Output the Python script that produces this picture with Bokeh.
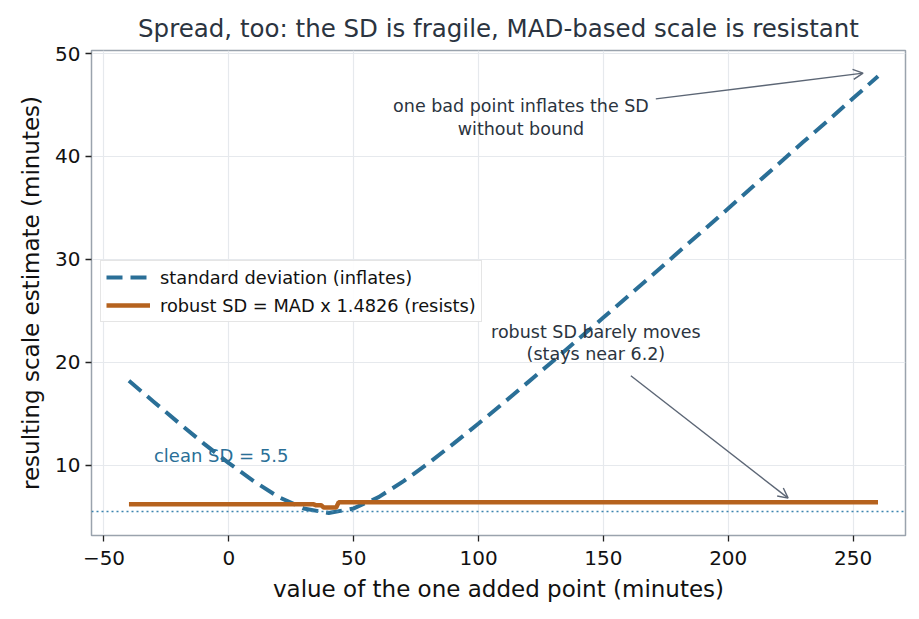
from bokeh.plotting import figure
from bokeh.models import (Range1d, FixedTicker, Legend, LegendItem, Span, Label,
                          Arrow, OpenHead, ColumnDataSource)
from bokeh.embed import file_html
from bokeh.resources import INLINE

# value of the added point (minutes) and the resulting sample SD
added_x = [-40, -30, -20, -10, 0, 10, 20, 30, 40, 50, 60, 70, 80, 90, 100, 110,
           120, 130, 140, 150, 160, 170, 180, 190, 200, 210, 220, 230, 240, 250, 260]
sd_values = [18.2, 16.15, 14.1, 12.1, 10.2, 8.45, 6.9, 5.8, 5.35, 5.8, 6.9,
             8.45, 10.2, 12.1, 14.05, 16.05, 18.1, 20.15, 22.25, 24.35, 26.45,
             28.55, 30.7, 32.8, 34.95, 37.1, 39.25, 41.4, 43.5, 45.65, 47.8]

# robust SD (MAD x 1.4826) for the same added point
robust_x = [-40, 34, 35, 37, 38, 43, 44, 260]
robust_values = [6.2, 6.2, 6.1, 6.1, 5.9, 5.9, 6.4, 6.4]

clean_sd = 5.5
x_ticks = [-50, 0, 50, 100, 150, 200, 250]
y_ticks = [10, 20, 30, 40, 50]

BLUE = "#2a6f97"
ORANGE = "#b5621e"
INK = "#2b3440"
ARROW = "#5c6675"
FONT = "DejaVu Sans"

p = figure(width=919, height=619, output_backend="svg", toolbar_location=None,
           x_range=Range1d(-55, 271), y_range=Range1d(3.17, 50.3),
           min_border_left=91, min_border_right=14, min_border_top=50,
           min_border_bottom=84)

p.title.text = "Spread, too: the SD is fragile, MAD-based scale is resistant"
p.title.align = "center"
p.title.text_font = FONT
p.title.text_font_size = "24.5px"
p.title.text_font_style = "normal"
p.title.text_color = INK
p.title.standoff = 16

p.background_fill_color = "white"
p.border_fill_color = "white"
p.outline_line_color = "#9aa3ad"
p.outline_line_width = 1.5

for ax in (p.xaxis, p.yaxis):
    ax.axis_line_color = None
    ax.major_tick_line_color = "#222222"
    ax.major_tick_line_width = 1.3
    ax.major_tick_out = 6
    ax.major_tick_in = 0
    ax.minor_tick_line_color = None
    ax.major_label_text_font = FONT
    ax.major_label_text_font_size = "20px"
    ax.major_label_text_color = "#111111"
    ax.axis_label_text_font = FONT
    ax.axis_label_text_font_size = "23px"
    ax.axis_label_text_font_style = "normal"
    ax.axis_label_text_color = "#111111"

p.xaxis.ticker = FixedTicker(ticks=x_ticks)
p.yaxis.ticker = FixedTicker(ticks=y_ticks)
p.xaxis.major_label_overrides = {-50: "\u221250"}
p.xaxis.axis_label = "value of the one added point (minutes)"
p.yaxis.axis_label = "resulting scale estimate (minutes)"
p.xaxis.major_label_standoff = 9
p.yaxis.major_label_standoff = 5
p.xaxis.axis_label_standoff = 8
p.yaxis.axis_label_standoff = 8

p.xgrid.ticker = FixedTicker(ticks=x_ticks)
p.ygrid.ticker = FixedTicker(ticks=y_ticks)
p.grid.grid_line_color = "#e6e9ed"
p.grid.grid_line_width = 1.2

# reference level of the clean sample's SD
p.add_layout(Span(location=clean_sd, dimension="width", line_color="#3d85b0",
                  line_dash="2 3", line_width=1.4))

sd_src = ColumnDataSource(dict(x=added_x, y=sd_values))
rb_src = ColumnDataSource(dict(x=robust_x, y=robust_values))

sd_line = p.line("x", "y", source=sd_src, line_color=BLUE, line_width=4,
                 line_dash="16 8")
rb_line = p.line("x", "y", source=rb_src, line_color=ORANGE, line_width=4.5)

legend = Legend(items=[
    LegendItem(label="standard deviation (inflates)", renderers=[sd_line]),
    LegendItem(label="robust SD = MAD x 1.4826 (resists)", renderers=[rb_line]),
], location=(9, 213))
legend.label_text_font = FONT
legend.label_text_font_size = "17.8px"
legend.label_text_color = "#111111"
legend.glyph_width = 44
legend.glyph_height = 22
legend.label_standoff = 10
legend.label_height = 22
legend.padding = 5
legend.spacing = 6
legend.margin = 0
legend.border_line_color = "#cccccc"
legend.border_line_width = 1.2
legend.background_fill_alpha = 0.9
p.add_layout(legend)

p.add_layout(Label(x=-30, y=10.9, text="clean SD = 5.5", text_color=BLUE,
                   text_font=FONT, text_font_size="18px", text_baseline="middle",
                   text_align="left"))

for txt, xx, yy in [("one bad point inflates the SD", 117, 44.9),
                    ("without bound", 117, 42.7),
                    ("robust SD barely moves", 147, 22.9),
                    ("(stays near 6.2)", 147, 20.8)]:
    p.add_layout(Label(x=xx, y=yy, text=txt, text_color=INK, text_font=FONT,
                       text_font_size="17.5px", text_align="center",
                       text_baseline="middle"))

p.add_layout(Arrow(x_start=171, y_start=45.6, x_end=254, y_end=48.1,
                   line_color=ARROW, line_width=1.4,
                   end=OpenHead(size=10, line_color=ARROW, line_width=1.4)))
p.add_layout(Arrow(x_start=161, y_start=18.7, x_end=224, y_end=6.8,
                   line_color=ARROW, line_width=1.4,
                   end=OpenHead(size=10, line_color=ARROW, line_width=1.4)))

open("out.html", "w").write(file_html(p, INLINE))
